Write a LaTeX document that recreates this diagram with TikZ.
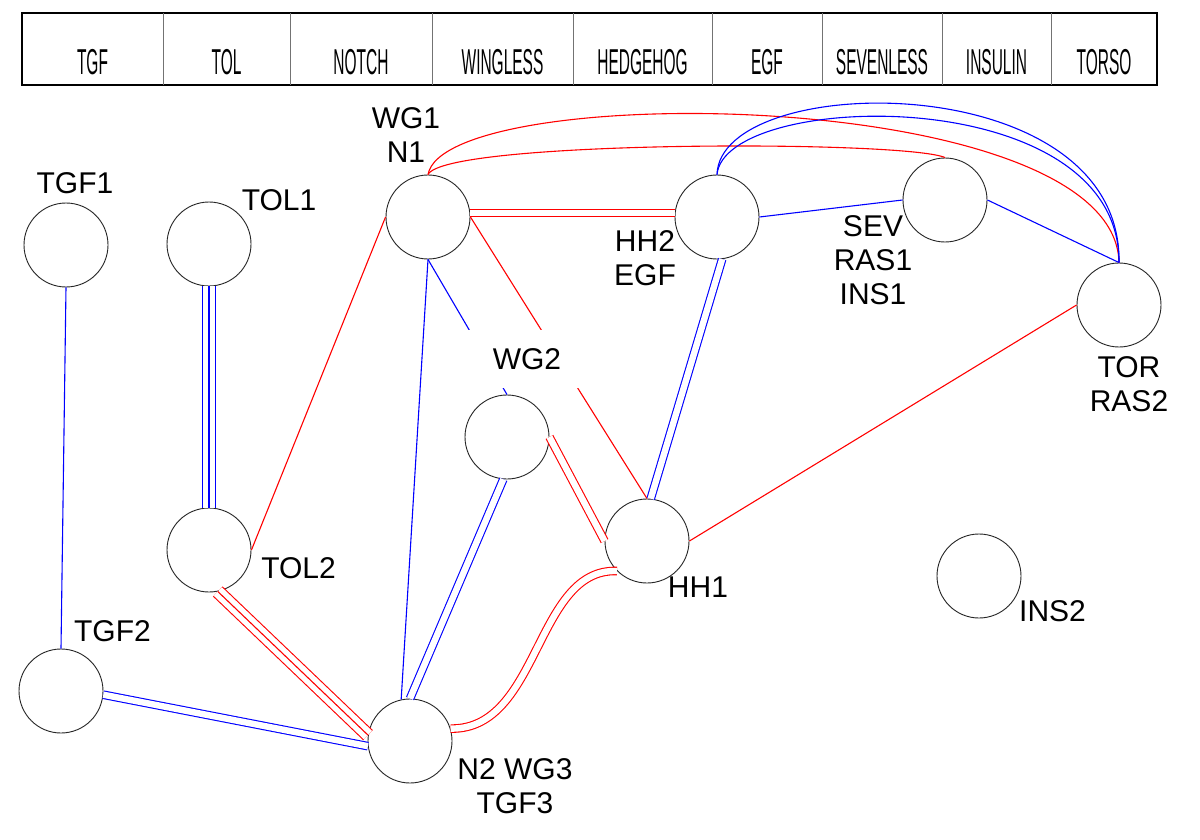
\documentclass[tikz,border=0pt]{standalone}
\usepackage{fontspec}
\setmainfont{Liberation Sans}
\newfontfamily\headfont[FakeStretch=0.43]{Liberation Sans}

\begin{document}
\begin{tikzpicture}[x=1pt, y=-1pt,
  gene/.style={circle, draw=black!85, line width=0.9pt, minimum size=84pt, inner sep=0pt},
  lbl/.style={inner sep=0pt, align=center, font=\fontsize{30}{34}\selectfont},
  head/.style={inner sep=0pt, font=\headfont\fontsize{36}{40}\selectfont},
  one/.style={draw=#1, line width=1.1pt},
  two/.style={draw=#1, line width=1.1pt, double=white, double distance=6.4pt},
  three/.style={two=#1, double distance=11.8pt, postaction={draw=#1, line width=1.1pt}}]
\fill[white] (0,0) rectangle (1200,840);
\draw[black, line width=1.2pt] (22,13) rectangle (1157,85);
\foreach \x in {163,290,432,573,712,822,942,1051}
  \draw[black!55, line width=1pt] (\x,13) -- (\x,85);
\foreach \a/\b/\name in {22/163/TGF, 163/290/TOL, 290/432/NOTCH, 432/573/WINGLESS,
    573/712/HEDGEHOG, 712/822/EGF, 822/942/SEVENLESS, 942/1051/INSULIN, 1051/1157/TORSO}
  \node[head] (h\name) at ({(\a+\b)/2},62) {\name};

\node[gene] (tgf1) at (66,245) {};
\node[gene] (tgf2) at (61,691) {};
\node[gene] (tol1) at (209,244) {};
\node[gene] (tol2) at (209,550) {};
\node[gene] (wg1) at (428,217) {};
\node[gene] (hh2) at (717,217) {};
\node[gene] (sev) at (945,200) {};
\node[gene] (tor) at (1119,305) {};
\node[gene] (wg2) at (507,437) {};
\node[gene] (hh1) at (647,541) {};
\node[gene] (n2) at (410,741) {};
\node[gene] (ins2) at (979,576) {};

\draw[one=blue] (tgf1.south) -- (tgf2.north);
\draw[three=blue] (tol1.south) -- (tol2.north);
\draw[one=red] (wg1.west) -- (tol2.east);
\draw[three=red] (tol2.-78) -- (n2.172);
\draw[two=blue] (tgf2.-5) -- (n2.187);
\draw[one=blue] (wg1.south) -- (n2.102);
\draw[two=blue] (wg2.-95) -- (n2.north);
\draw[one=blue] (wg1.south) -- (wg2.north);
\draw[one=red] (wg1.east) -- (hh1.north);
\draw[two=red] ([yshift=4pt]wg1.east) -- ([yshift=4pt]hh2.west);
\draw[two=red] (wg2.east) -- (hh1.west);
\draw[two=blue] (hh2.-83) -- (hh1.85);
\draw[two=red] (hh1.225) .. controls (535,568) and (540,730) .. (n2.17);
\draw[one=blue] (hh2.east) -- (sev.west);
\draw[one=blue] (sev.east) -- (tor.north);
\draw[one=red] (tor.west) -- (hh1.east);
\draw[one=red] (wg1.north) .. controls (445,80) and (1115,85) .. (tor.north);
\draw[one=red] (wg1.north) .. controls (445,140) and (905,140) .. (sev.north);
\draw[one=blue] (hh2.north) .. controls (720,70) and (1122,65) .. (tor.north);
\draw[one=blue] (hh2.north) .. controls (725,90) and (1120,80) .. (tor.north);

\node[lbl] (ltgf1) at (75,183.5) {TGF1};
\node[lbl] (ltol1) at (279,200) {TOL1};
\node[lbl] (lwg1) at (406,135.5) {WG1\\N1};
\node[lbl] (lhh2) at (645,258.5) {HH2\\EGF};
\node[lbl] (lsev) at (873,260) {SEV\\RAS1\\INS1};
\node[lbl] (ltor) at (1129,384.5) {TOR\\RAS2};
\node[lbl, fill=white, minimum width=124pt, minimum height=58pt] (lwg2) at (527,359) {WG2};
\node[lbl] (ltol2) at (298.5,568.5) {TOL2};
\node[lbl] (ltgf2) at (112.5,631) {TGF2};
\node[lbl] (lhh1) at (698,587) {HH1};
\node[lbl] (ln2) at (515,786.5) {N2 WG3\\TGF3};
\node[lbl] (lins2) at (1052.5,611) {INS2};
\end{tikzpicture}
\end{document}
